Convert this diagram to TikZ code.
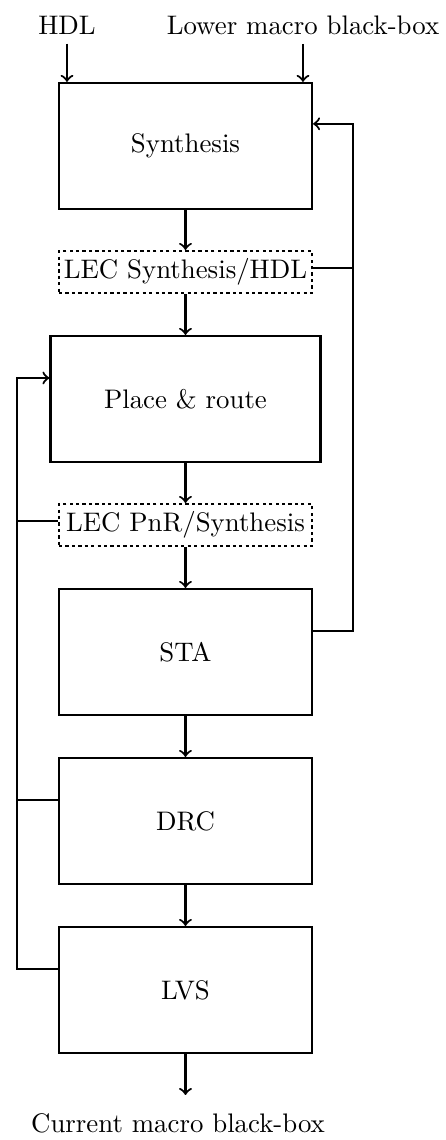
\documentclass[tikz,border=0pt]{standalone}
\usepackage{tikz}
\usetikzlibrary{positioning, calc}
\tikzset{
    stage/.style={draw, thick, minimum width=3.316cm, minimum height=1.651cm},
    lecbox/.style={draw, thick, dash pattern=on 1.2pt off 1.2pt, minimum width=3.316cm, minimum height=0.55cm, inner sep=1pt},
    flow/.style={thick, ->},
}

\begin{document}
\begin{tikzpicture}
    \useasboundingbox (0,0) rectangle (5.845,-14.941);
    % inputs
    \node (hdl) at (0.878,-0.328) {HDL};
    \node (lower) at (3.971,-0.328) {Lower macro black-box};
    % flow stages
    \node[stage] (syn) at (2.431,-1.913) {Synthesis};
    \node[lecbox] (lecsyn) at (2.431,-3.565) {LEC Synthesis/HDL};
    \node[stage, minimum width=3.539cm] (pnr) at (2.431,-5.229) {Place \& route};
    \node[lecbox] (lecpnr) at (2.431,-6.881) {LEC PnR/Synthesis};
    \node[stage] (sta) at (2.431,-8.545) {STA};
    \node[stage] (drc) at (2.431,-10.760) {DRC};
    \node[stage] (lvs) at (2.431,-12.975) {LVS};
    \node (out) at (2.333,-14.718) {Current macro black-box};
    \coordinate (outtip) at (2.431,-14.351);
    % feedback buses
    \coordinate (rbus) at (4.626,0);
    \coordinate (lbus) at (0.223,0);

    \draw[flow] (hdl) -- (hdl |- syn.north);
    \draw[flow] (lower) -- (lower |- syn.north);
    \draw[flow] (syn) -- (lecsyn);
    \draw[flow] (lecsyn) -- (pnr);
    \draw[flow] (pnr) -- (lecpnr);
    \draw[flow] (lecpnr) -- (sta);
    \draw[flow] (sta) -- (drc);
    \draw[flow] (drc) -- (lvs);
    \draw[flow] (lvs) -- (outtip);

    % back to synthesis
    \draw[flow] ([yshift=0.275cm]sta.east) -- ([yshift=0.275cm]sta.east -| rbus)
        |- ([yshift=0.29cm]syn.east);
    \draw[thick] ([yshift=0.05cm]lecsyn.east) -- ([yshift=0.05cm]lecsyn.east -| rbus);

    % back to place & route
    \draw[flow] ([yshift=0.275cm]lvs.west) -- ([yshift=0.275cm]lvs.west -| lbus)
        |- ([yshift=0.275cm]pnr.west);
    \draw[thick] ([yshift=0.275cm]drc.west) -- ([yshift=0.275cm]drc.west -| lbus);
    \draw[thick] ([yshift=0.05cm]lecpnr.west) -- ([yshift=0.05cm]lecpnr.west -| lbus);
\end{tikzpicture}
\end{document}
